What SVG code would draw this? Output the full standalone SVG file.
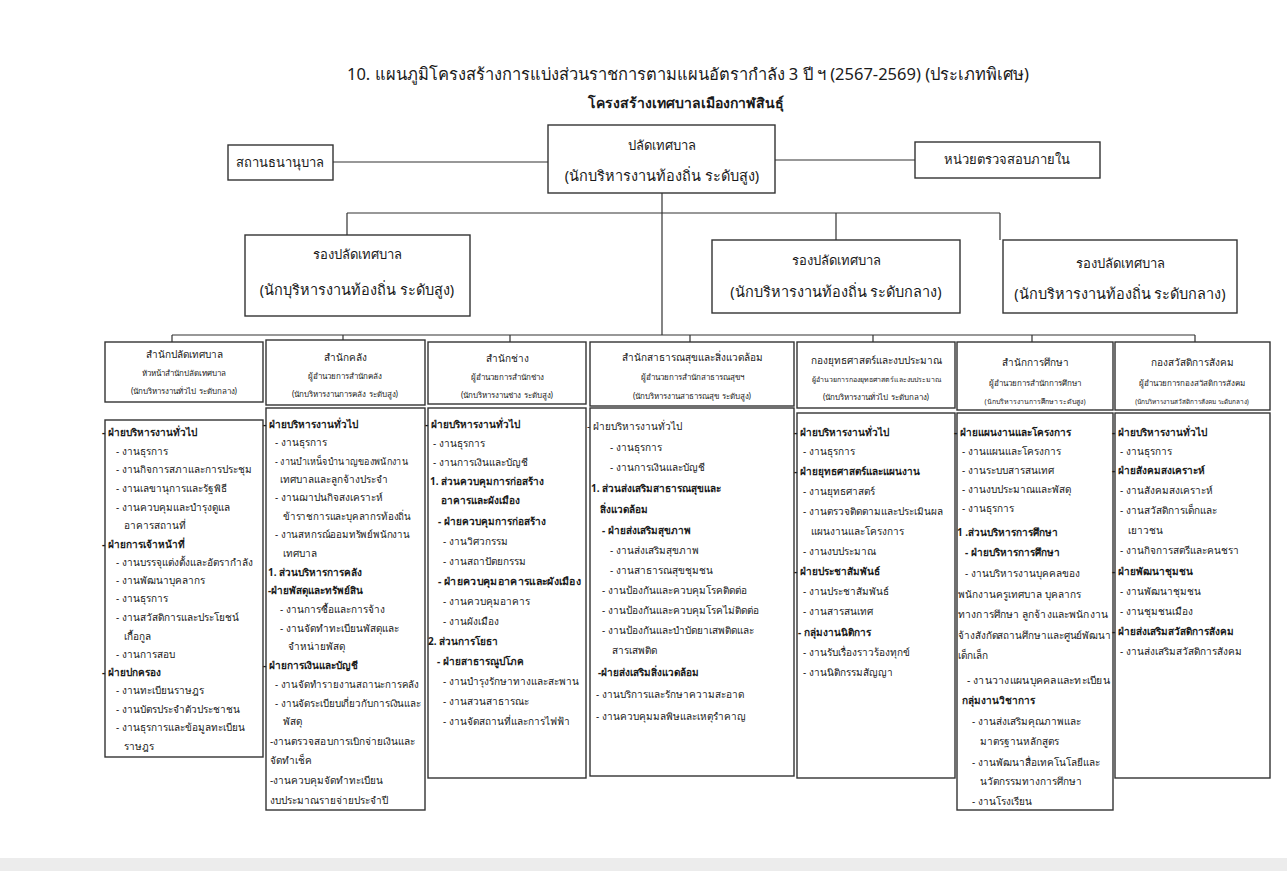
<svg xmlns="http://www.w3.org/2000/svg" width="1287" height="871" viewBox="0 0 1287 871">
<style>
text{font-family:"Noto Sans","DejaVu Sans",sans-serif;fill:#1a1a1a}
.t{font-size:16.5px}
.st{font-size:14px;font-weight:bold}
.m{font-size:13px;text-anchor:middle}
.mp{font-size:14.5px;text-anchor:middle}
.h{font-size:10px;text-anchor:middle}
.hs{font-size:8px;text-anchor:middle}
.b{font-size:10px}
.bb{font-size:10px;font-weight:bold}
.box{fill:#fff;stroke:#333;stroke-width:1.4}
.ln{fill:none;stroke:#333;stroke-width:1.2}
</style>
<rect width="1287" height="871" fill="#fff"/>
<rect x="0" y="858" width="1287" height="13" fill="#ececec"/>
<text class="t" x="688" y="80" text-anchor="middle">10. แผนภูมิโครงสร้างการแบ่งส่วนราชการตามแผนอัตรากำลัง 3 ปี ฯ (2567-2569) (ประเภทพิเศษ)</text>
<text class="st" x="686" y="108" text-anchor="middle">โครงสร้างเทศบาลเมืองกาฬสินธุ์</text>

<g id="connectors">
<path class="ln" d="M333 162H548M775 160H915"/>
<path class="ln" d="M662 193V335"/>
<path class="ln" d="M347 213H1000M347 213V235M836 213V240M1000 213V240"/>
<path class="ln" d="M172 335H1195M172 335V342M343 335V340M510 335V342M690 335V342M873 335V342M1032 335V342M1195 335V342"/>
</g>

<g id="n-top-center"><rect class="box" x="548" y="125" width="227" height="68"/>
<text class="m" x="662" y="150">ปลัดเทศบาล</text><text class="mp" x="662" y="181">(นักบริหารงานท้องถิ่น ระดับสูง)</text></g>
<g id="n-pawn"><rect class="box" x="228" y="145" width="105" height="35"/>
<text class="m" x="280" y="167">สถานธนานุบาล</text></g>
<g id="n-audit"><rect class="box" x="915" y="142" width="185" height="36"/>
<text class="m" x="1007" y="164">หน่วยตรวจสอบภายใน</text></g>

<g id="n-dep1"><rect class="box" x="245" y="235" width="225" height="81"/>
<text class="m" x="357" y="259">รองปลัดเทศบาล</text><text class="mp" x="357" y="295">(นักบุริหารงานท้องถิ่น ระดับสูง)</text></g>
<g id="n-dep2"><rect class="box" x="712" y="240" width="248" height="73"/>
<text class="m" x="836" y="265">รองปลัดเทศบาล</text><text class="mp" x="836" y="297">(นักบริหารงานท้องถิ่น ระดับกลาง)</text></g>
<g id="n-dep3"><rect class="box" x="1003" y="240" width="234" height="73"/>
<text class="m" x="1120" y="268">รองปลัดเทศบาล</text><text class="mp" x="1120" y="299">(นักบริหารงานท้องถิ่น ระดับกลาง)</text></g>

<g id="n-col1">
<rect class="box" x="105" y="342" width="158" height="60"/>
<text class="h" x="184" y="358">สำนักปลัดเทศบาล</text>
<text class="hs" x="184" y="376">หัวหน้าสำนักปลัดเทศบาล</text>
<text class="hs" x="184" y="394">(นักบริหารงานทั่วไป ระดับกลาง)</text>
<rect class="box" x="105" y="420" width="158" height="337"/>
<text class="bb" x="102" y="436">- ฝ่ายบริหารงานทั่วไป</text>
<text class="b" x="116" y="455">- งานธุรการ</text>
<text class="b" x="116" y="473">- งานกิจการสภาและการประชุม</text>
<text class="b" x="116" y="492">- งานเลขานุการและรัฐพิธี</text>
<text class="b" x="116" y="511">- งานควบคุมและบำรุงดูแล</text>
<text class="b" x="124" y="529">อาคารสถานที่</text>
<text class="bb" x="102" y="548">- ฝ่ายการเจ้าหน้าที่</text>
<text class="b" x="116" y="566">- งานบรรจุแต่งตั้งและอัตรากำลัง</text>
<text class="b" x="116" y="584">- งานพัฒนาบุคลากร</text>
<text class="b" x="116" y="602">- งานธุรการ</text>
<text class="b" x="116" y="621">- งานสวัสดิการและประโยชน์</text>
<text class="b" x="124" y="640">เกื้อกูล</text>
<text class="b" x="116" y="658">- งานการสอบ</text>
<text class="bb" x="102" y="676">- ฝ่ายปกครอง</text>
<text class="b" x="116" y="694">- งานทะเบียนราษฎร</text>
<text class="b" x="116" y="713">- งานบัตรประจำตัวประชาชน</text>
<text class="b" x="116" y="731">- งานธุรการและข้อมูลทะเบียน</text>
<text class="b" x="124" y="750">ราษฎร</text>
</g>

<g id="n-col2">
<rect class="box" x="266" y="340" width="159" height="65"/>
<text class="h" x="345" y="361">สำนักคลัง</text>
<text class="hs" x="345" y="379">ผู้อำนวยการสำนักคลัง</text>
<text class="hs" x="345" y="397">(นักบริหารงานการคลัง ระดับสูง)</text>
<rect class="box" x="266" y="408" width="159" height="402"/>
<text class="bb" x="263" y="428">- ฝ่ายบริหารงานทั่วไป</text>
<text class="b" x="275" y="446">- งานธุรการ</text>
<text class="b" x="275" y="465" textLength="133" lengthAdjust="spacingAndGlyphs">- งานบำเหน็จบำนาญของพนักงาน</text>
<text class="b" x="280" y="483">เทศบาลและลูกจ้างประจำ</text>
<text class="b" x="275" y="501">- งานฌาปนกิจสงเคราะห์</text>
<text class="b" x="283" y="520" textLength="128" lengthAdjust="spacingAndGlyphs">ข้าราชการและบุคลากรท้องถิ่น</text>
<text class="b" x="275" y="538" textLength="135" lengthAdjust="spacingAndGlyphs">- งานสหกรณ์ออมทรัพย์พนักงาน</text>
<text class="b" x="283" y="557">เทศบาล</text>
<text class="bb" x="268" y="576">1. ส่วนบริหารการคลัง</text>
<text class="bb" x="268" y="594">-ฝ่ายพัสดุและทรัพย์สิน</text>
<text class="b" x="280" y="613">- งานการซื้อและการจ้าง</text>
<text class="b" x="280" y="632">- งานจัดทำทะเบียนพัสดุและ</text>
<text class="b" x="288" y="650">จำหน่ายพัสดุ</text>
<text class="bb" x="263" y="669">- ฝ่ายการเงินและบัญชี</text>
<text class="b" x="275" y="688" textLength="144" lengthAdjust="spacingAndGlyphs">-  งานจัดทำรายงานสถานะการคลัง</text>
<text class="b" x="275" y="707" textLength="146" lengthAdjust="spacingAndGlyphs">- งานจัดระเบียบเกี่ยวกับการเงินและ</text>
<text class="b" x="283" y="725">พัสดุ</text>
<text class="b" x="270" y="745" textLength="145" lengthAdjust="spacingAndGlyphs">-งานตรวจสอบการเบิกจ่ายเงินและ</text>
<text class="b" x="270" y="764">จัดทำเช็ค</text>
<text class="b" x="270" y="784">-งานควบคุมจัดทำทะเบียน</text>
<text class="b" x="270" y="804">งบประมาณรายจ่ายประจำปี</text>
</g>

<g id="n-col3">
<rect class="box" x="428" y="342" width="158" height="62"/>
<text class="h" x="507" y="362">สำนักช่าง</text>
<text class="hs" x="507" y="380">ผู้อำนวยการสำนักช่าง</text>
<text class="hs" x="507" y="398">(นักบริหารงานช่าง ระดับสูง)</text>
<rect class="box" x="428" y="408" width="158" height="370"/>
<text class="bb" x="425" y="428">- ฝ่ายบริหารงานทั่วไป</text>
<text class="b" x="433" y="447">- งานธุรการ</text>
<text class="b" x="433" y="466">- งานการเงินและบัญชี</text>
<text class="bb" x="430" y="485">1. ส่วนควบคุมการก่อสร้าง</text>
<text class="bb" x="441" y="504">อาคารและผังเมือง</text>
<text class="bb" x="438" y="525">- ฝ่ายควบคุมการก่อสร้าง</text>
<text class="b" x="443" y="545">- งานวิศวกรรม</text>
<text class="b" x="443" y="565">- งานสถาปัตยกรรม</text>
<text class="bb" x="438" y="585" textLength="143" lengthAdjust="spacingAndGlyphs">- ฝ่ายควบคุมอาคารและผังเมือง</text>
<text class="b" x="443" y="605">- งานควบคุมอาคาร</text>
<text class="b" x="443" y="625">- งานผังเมือง</text>
<text class="bb" x="428" y="645">2. ส่วนการโยธา</text>
<text class="bb" x="437" y="665">-  ฝ่ายสาธารณูปโภค</text>
<text class="b" x="443" y="685">- งานบำรุงรักษาทางและสะพาน</text>
<text class="b" x="443" y="705">- งานสวนสาธารณะ</text>
<text class="b" x="443" y="725">- งานจัดสถานที่และการไฟฟ้า</text>
</g>

<g id="n-col4">
<rect class="box" x="590" y="342" width="204" height="64"/>
<text class="h" x="692" y="361">สำนักสาธารณสุขและสิ่งแวดล้อม</text>
<text class="hs" x="692" y="380">ผู้อำนวยการสำนักสาธารณสุขฯ</text>
<text class="hs" x="692" y="399">(นักบริหารงานสาธารณสุข ระดับสูง)</text>
<rect class="box" x="590" y="408" width="204" height="368"/>
<text class="b" x="587" y="430">- ฝ่ายบริหารงานทั่วไป</text>
<text class="b" x="610" y="451">- งานธุรการ</text>
<text class="b" x="610" y="471">- งานการเงินและบัญชี</text>
<text class="bb" x="591" y="492">1. ส่วนส่งเสริมสาธารณสุขและ</text>
<text class="bb" x="600" y="513">สิ่งแวดล้อม</text>
<text class="bb" x="602" y="534">- ฝ่ายส่งเสริมสุขภาพ</text>
<text class="b" x="610" y="554">- งานส่งเสริมสุขภาพ</text>
<text class="b" x="610" y="574">- งานสาธารณสุขชุมชน</text>
<text class="b" x="602" y="594">- งานป้องกันและควบคุมโรคติดต่อ</text>
<text class="b" x="602" y="614">- งานป้องกันและควบคุมโรคไม่ติดต่อ</text>
<text class="b" x="602" y="634">- งานป้องกันและบำบัดยาเสพติดและ</text>
<text class="b" x="612" y="654">สารเสพติด</text>
<text class="bb" x="598" y="676">-ฝ่ายส่งเสริมสิ่งแวดล้อม</text>
<text class="b" x="596" y="698">- งานบริการและรักษาความสะอาด</text>
<text class="b" x="596" y="720">- งานควบคุมมลพิษและเหตุรำคาญ</text>
</g>

<g id="n-col5">
<rect class="box" x="797" y="342" width="158" height="66"/>
<text class="h" x="876" y="364">กองยุทธศาสตร์และงบประมาณ</text>
<text class="hs" x="876" y="382" style="font-size:7px">ผู้อำนวยการกองยุทธศาสตร์และงบประมาณ</text>
<text class="hs" x="876" y="400">(นักบริหารงานทั่วไป ระดับกลาง)</text>
<rect class="box" x="797" y="413" width="158" height="365"/>
<text class="bb" x="794" y="436">- ฝ่ายบริหารงานทั่วไป</text>
<text class="b" x="803" y="455">- งานธุรการ</text>
<text class="bb" x="794" y="475">- ฝ่ายยุทธศาสตร์และแผนงาน</text>
<text class="b" x="803" y="495">- งานยุทธศาสตร์</text>
<text class="b" x="803" y="515">- งานตรวจติดตามและประเมินผล</text>
<text class="b" x="811" y="535">แผนงานและโครงการ</text>
<text class="b" x="803" y="555">- งานงบประมาณ</text>
<text class="bb" x="794" y="575">- ฝ่ายประชาสัมพันธ์</text>
<text class="b" x="803" y="595">- งานประชาสัมพันธ์</text>
<text class="b" x="803" y="615">- งานสารสนเทศ</text>
<text class="bb" x="798" y="636">- กลุ่มงานนิติการ</text>
<text class="b" x="803" y="656">- งานรับเรื่องราวร้องทุกข์</text>
<text class="b" x="803" y="676">- งานนิติกรรมสัญญา</text>
</g>

<g id="n-col6">
<rect class="box" x="957" y="342" width="156" height="68"/>
<text class="h" x="1035" y="366">สำนักการศึกษา</text>
<text class="hs" x="1035" y="386">ผู้อำนวยการสำนักการศึกษา</text>
<text class="hs" x="1035" y="404" style="font-size:7px">(นักบริหารงานการศึกษา ระดับสูง)</text>
<rect class="box" x="957" y="413" width="156" height="397"/>
<text class="bb" x="954" y="436">- ฝ่ายแผนงานและโครงการ</text>
<text class="b" x="962" y="455">- งานแผนและโครงการ</text>
<text class="b" x="962" y="474">- งานระบบสารสนเทศ</text>
<text class="b" x="962" y="493">- งานงบประมาณและพัสดุ</text>
<text class="b" x="962" y="512">- งานธุรการ</text>
<text class="bb" x="957" y="536">1 .ส่วนบริหารการศึกษา</text>
<text class="bb" x="965" y="556">- ฝ่ายบริหารการศึกษา</text>
<text class="b" x="965" y="577">- งานบริหารงานบุคคลของ</text>
<text class="b" x="958" y="598">พนักงานครูเทศบาล บุคลากร</text>
<text class="b" x="958" y="618" textLength="150" lengthAdjust="spacingAndGlyphs">ทางการศึกษา ลูกจ้างและพนักงาน</text>
<text class="b" x="958" y="639" textLength="153" lengthAdjust="spacingAndGlyphs">จ้างสังกัดสถานศึกษาและศูนย์พัฒนา</text>
<text class="b" x="958" y="659">เด็กเล็ก</text>
<text class="b" x="967" y="684" textLength="143" lengthAdjust="spacingAndGlyphs">- งานวางแผนบุคคลและทะเบียน</text>
<text class="bb" x="962" y="704">กลุ่มงานวิชาการ</text>
<text class="b" x="972" y="725">- งานส่งเสริมคุณภาพและ</text>
<text class="b" x="980" y="745">มาตรฐานหลักสูตร</text>
<text class="b" x="972" y="766">- งานพัฒนาสื่อเทคโนโลยีและ</text>
<text class="b" x="980" y="785">นวัตกรรมทางการศึกษา</text>
<text class="b" x="972" y="805">- งานโรงเรียน</text>
</g>

<g id="n-col7">
<rect class="box" x="1115" y="342" width="155" height="68"/>
<text class="h" x="1192" y="366">กองสวัสดิการสังคม</text>
<text class="hs" x="1192" y="386">ผู้อำนวยการกองสวัสดิการสังคม</text>
<text class="hs" x="1192" y="404" style="font-size:6.5px">(นักบริหารงานสวัสดิการสังคม ระดับกลาง)</text>
<rect class="box" x="1115" y="413" width="155" height="365"/>
<text class="bb" x="1112" y="436">- ฝ่ายบริหารงานทั่วไป</text>
<text class="b" x="1120" y="455">- งานธุรการ</text>
<text class="bb" x="1112" y="474">- ฝ่ายสังคมสงเคราะห์</text>
<text class="b" x="1120" y="494">- งานสังคมสงเคราะห์</text>
<text class="b" x="1120" y="514">- งานสวัสดิการเด็กและ</text>
<text class="b" x="1128" y="534">เยาวชน</text>
<text class="b" x="1120" y="554">- งานกิจการสตรีและคนชรา</text>
<text class="bb" x="1112" y="575">- ฝ่ายพัฒนาชุมชน</text>
<text class="b" x="1120" y="595">- งานพัฒนาชุมชน</text>
<text class="b" x="1120" y="615">- งานชุมชนเมือง</text>
<text class="bb" x="1112" y="635">- ฝ่ายส่งเสริมสวัสดิการสังคม</text>
<text class="b" x="1120" y="655">- งานส่งเสริมสวัสดิการสังคม</text>
</g>
</svg>
